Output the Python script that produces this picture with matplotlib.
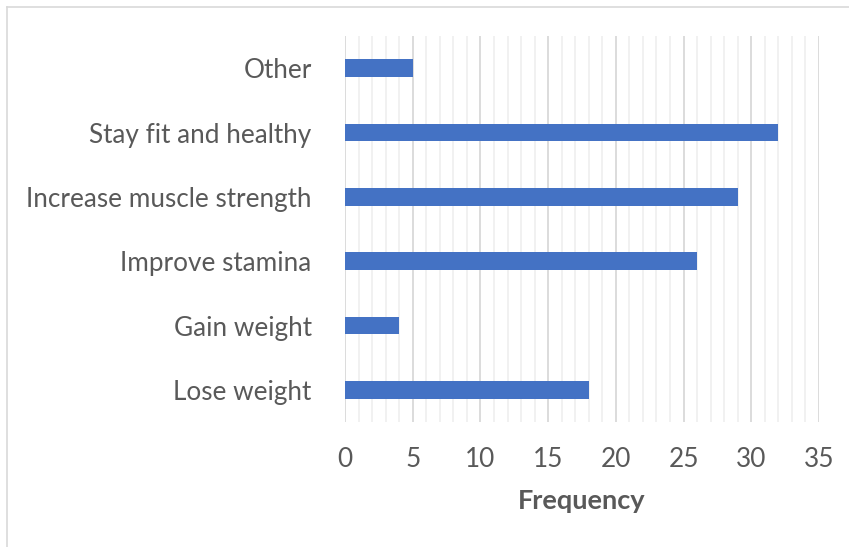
import matplotlib
matplotlib.use("Agg")
import matplotlib.pyplot as plt
from matplotlib.lines import Line2D
from matplotlib.ticker import MultipleLocator

categories = ["Lose weight", "Gain weight", "Improve stamina",
              "Increase muscle strength", "Stay fit and healthy", "Other"]
values = [18, 4, 26, 29, 32, 5]
x_ticks = [0, 5, 10, 15, 20, 25, 30, 35]

plt.rcParams['font.family'] = ['Lato', 'DejaVu Sans']

W, H = 849, 547
fig = plt.figure(figsize=(W/100, H/100), dpi=100)
ax = fig.add_axes([345/W, 1-422/H, (819-345)/W, (422-36)/H])

y = list(range(len(categories)))
ax.barh(y, values, height=0.27, color="#4472C4", zorder=3)
ax.set_xlim(0, 35)
ax.set_ylim(-0.5, len(categories)-0.5)
ax.set_xticks(x_ticks)
ax.xaxis.set_minor_locator(MultipleLocator(1))
ax.set_yticks(y)
ax.set_yticklabels(categories)
ax.grid(axis='x', which='major', color='#d9d9d9', linewidth=1.3, zorder=0)
ax.grid(axis='x', which='minor', color='#f0f0f0', linewidth=1.3, zorder=0)
ax.tick_params(axis='both', which='both', length=0, labelsize=18.8, labelcolor='#595959')
ax.tick_params(axis='x', pad=18)
ax.tick_params(axis='y', pad=24)
for s in ax.spines.values():
    s.set_visible(False)
ax.set_xlabel("Frequency", fontsize=19.5, fontweight='bold', color='#595959', labelpad=12)

fig.add_artist(Line2D([7/W, 1], [1-7/H, 1-7/H], color='#d9d9d9', linewidth=1.2, transform=fig.transFigure))
fig.add_artist(Line2D([7/W, 7/W], [1-7/H, 0], color='#d9d9d9', linewidth=1.2, transform=fig.transFigure))

fig.savefig("out.png", dpi=100)
